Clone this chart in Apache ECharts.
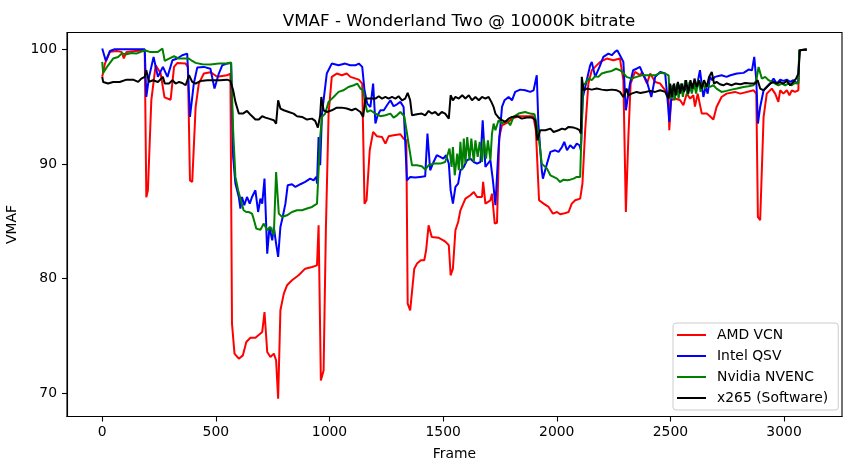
<!DOCTYPE html>
<html><head><meta charset="utf-8">
<script src="https://cdn.jsdelivr.net/npm/echarts@6/dist/echarts.min.js"></script>
<style>html,body{margin:0;padding:0;background:#fff}#c{width:850px;height:470px}</style>
</head><body><div id="c"></div>
<script>
const titleText = 'VMAF - Wonderland Two @ 10000K bitrate';
const xName = 'Frame';
const yName = 'VMAF';
const seriesNames = ['AMD VCN', 'Intel QSV', 'Nvidia NVENC', 'x265 (Software)'];
const seriesColors = ['#ff0000', '#0000ff', '#008000', '#000000'];
const xTicks = [0, 500, 1000, 1500, 2000, 2500, 3000];
const yTicks = [70, 80, 90, 100];

// [frame, VMAF]
const amdVcn = [[0,97.6],[12,98.75],[34,99.77],[63,99.85],[85,99.77],[95,99.2],[107,99.77],[147,99.85],[187,99.9],[194,87.1],[201,87.7],[216,95.55],[235,98.6],[257,97.9],[274,95.8],
[279,95.8],[301,95.6],[316,98.46],[330,98.8],[367,98.75],[377,98.46],[386,88.57],[396,88.43],[411,94.97],[425,97.0],[447,97.88],[476,98.0],[506,97.6],[549,97.73],[564,97.88],[571,76.07],[582,73.46],[601,73.02],[619,73.31],[634,74.48],[652,74.85],[674,74.85],
[704,75.35],[714,77.09],[726,73.6],[740,73.17],[755,73.46],[765,72.88],[774,69.53],[784,77.24],[799,78.69],[813,79.42],[835,79.86],[864,80.29],[893,80.87],[923,81.02],[945,81.16],[952,84.65],[962,71.13],[974,72.0],[984,84.22],[996,94.39],[1010,97.59],[1032,97.88],[1054,97.73],[1076,97.88],
[1092,97.59],[1129,97.35],[1144,97.0],[1154,86.54],[1163,86.83],[1177,91.19],[1192,92.79],[1209,92.41],[1231,92.35],[1246,91.77],[1260,92.41],[1282,92.5],[1312,92.59],[1326,92.21],[1338,92.06],[1344,77.82],[1355,77.24],[1363,77.38],[1373,80.87],[1385,81.31],[1402,81.6],[1417,81.6],[1425,82.47],[1436,84.65],[1450,83.63],[1479,83.57],[1501,83.34],
[1511,83.2],[1525,82.91],[1533,80.29],[1543,80.87],[1554,84.22],[1566,84.94],[1576,85.96],[1598,86.98],[1620,87.27],[1635,87.56],[1649,87.12],[1671,87.12],[1676,88.43],[1686,86.54],[1708,86.83],[1715,87.41],[1727,84.8],[1737,84.86],[1747,92.35],[1759,93.37],[1781,93.58],[1803,93.95],[1832,94.16],[1897,94.16],[1908,92.94],[1922,86.83],
[1942,86.54],[1964,86.25],[1983,85.67],[2001,85.81],[2015,85.61],[2030,85.67],[2037,85.52],[2052,85.81],[2066,86.54],[2081,86.83],[2103,86.98],[2113,88.29],[2125,92.94],[2139,97.01],[2154,98.17],[2169,98.46],[2191,98.9],[2220,99.19],[2249,99.04],[2278,99.19],[2293,97.3],[2304,85.81],[2315,92.35],[2325,97.01],[2344,98.02],
[2368,97.73],[2375,98.02],[2397,97.01],[2411,97.88],[2433,97.15],[2455,97.01],[2477,96.42],[2492,96.13],[2495,92.94],[2503,95.55],[2521,95.7],[2543,95.55],[2557,95.12],[2572,96.13],[2587,95.7],[2601,95.99],[2608,95.0],[2620,96.13],[2638,94.39],[2660,94.39],[2674,94.16],[2689,93.87],[2703,94.97],[2725,95.84],[2747,96.13],[2784,96.28],
[2808,96.13],[2866,96.42],[2878,96.13],[2885,85.38],[2895,85.09],[2910,94.1],[2924,96.13],[2946,96.57],[2961,96.13],[2975,95.41],[2983,96.42],[2997,96.13],[3012,96.42],[3024,95.99],[3034,96.42],[3048,96.28],[3063,96.42],[3067,99.91],[3100,99.97]];

const intelQsv = [[0,100.06],[16,98.98],[34,99.85],[55,100.0],[187,100.0],[194,95.84],[206,97.59],[226,99.33],[245,97.59],[267,98.46],
[287,97.59],[309,99.04],[330,99.19],[352,99.48],[374,99.62],[386,94.1],[403,97.01],[418,98.4],[447,98.46],[476,98.3],[494,96.57],[513,97.88],[528,98.6],[549,98.75],[567,98.81],[576,90.61],[586,88.29],[601,87.12],[608,86.11],[615,87.12],[625,86.4],[637,87.12],[649,86.54],[659,87.12],
[674,87.7],[686,85.81],[696,86.98],[704,86.54],[714,88.72],[726,82.18],[736,84.51],[748,83.34],[755,84.51],[765,83.05],[774,81.89],[784,84.51],[794,85.38],[806,86.54],[816,88.14],[835,88.23],[850,87.99],[872,88.23],[893,88.43],[915,88.72],[930,88.57],[942,88.87],[945,88.29],[952,92.35],[959,89.88],[967,94.39],[988,97.88],[1010,98.75],[1040,98.6],[1069,98.75],[1091,98.6],
[1114,98.6],[1129,98.75],[1144,98.46],[1154,96.42],[1166,95.26],[1180,94.97],[1192,97.01],[1202,93.52],[1212,94.24],[1224,94.68],[1239,94.68],[1253,95.12],[1268,95.55],[1282,95.03],[1297,95.2],[1312,95.41],[1326,94.97],[1341,88.57],[1355,88.87],[1377,88.81],[1399,88.87],[1421,88.92],[1431,92.65],[1443,89.45],[1458,90.17],[1472,90.76],[1487,90.61],[1501,90.46],[1513,90.76],
[1525,90.03],[1533,87.7],[1543,86.54],[1554,87.99],[1566,88.29],[1576,89.45],[1591,89.74],[1605,90.32],[1620,90.46],[1635,90.17],[1649,90.03],[1664,90.17],[1674,93.81],[1686,89.74],[1708,90.32],[1719,88.57],[1730,86.4],[1737,86.54],[1744,91.48],[1759,94.97],[1770,95.55],[1788,95.84],[1803,95.55],[1817,96.28],[1839,96.48],[1861,96.42],[1883,96.28],[1898,96.42],[1912,97.73],[1919,93.52],[1934,89.45],
[1939,88.72],[1957,90.03],[1972,91.05],[1993,91.19],[2008,91.05],[2023,91.48],[2033,91.92],[2045,91.19],[2059,91.63],[2074,91.34],[2088,91.77],[2100,91.63],[2106,91.19],[2115,95.84],[2132,97.3],[2147,98.6],[2154,98.9],[2169,97.59],[2188,98.46],[2205,99.33],[2227,99.62],[2242,99.48],[2256,99.77],[2266,99.91],[2278,99.48],[2293,98.9],[2304,94.68],[2322,97.01],[2336,98.17],[2351,98.3],[2366,98.46],
[2375,98.02],[2397,97.15],[2416,95.84],[2433,97.59],[2455,98.02],[2477,97.88],[2489,95.26],[2495,93.66],[2503,95.55],[2518,96.71],[2528,96.42],[2543,96.86],[2557,96.28],[2572,96.71],[2587,96.42],[2601,97.01],[2616,96.71],[2630,98.17],[2645,95.84],[2655,96.71],[2664,96.13],[2674,97.59],[2684,97.3],[2696,97.59],[2725,97.73],[2747,97.59],
[2764,97.73],[2793,97.88],[2822,97.94],[2844,98.23],[2859,98.17],[2869,99.33],[2878,97.3],[2885,93.52],[2895,94.97],[2910,96.42],[2924,96.71],[2939,97.01],[2954,97.44],[2968,97.01],[2983,97.35],[2997,97.24],[3012,97.35],[3027,97.15],[3041,97.3],[3056,97.01],[3063,97.3],[3067,99.91],[3100,99.97]];

const nvidiaNvenc = [[0,98.9],[4,97.94],[26,98.6],[48,99.19],[70,99.33],[85,99.62],[107,99.56],[129,99.68],[150,99.62],[187,99.91],[209,99.77],[245,99.77],[265,100.06],[275,98.98],
[294,99.19],[316,99.39],[338,99.19],[360,99.19],[381,99.19],[396,98.98],[411,98.81],[440,98.69],[476,98.66],[513,98.75],[549,98.75],[567,98.84],[576,92.94],[586,88.87],[598,87.7],[608,86.98],[622,85.96],[634,85.81],[644,85.81],[659,85.67],[666,85.23],[678,84.36],
[696,84.27],[711,84.8],[726,84.22],[740,84.51],[755,83.78],[765,89.3],[777,85.67],[791,85.38],[813,85.52],[835,85.81],[857,85.96],[879,85.96],[901,86.11],[923,86.25],[945,86.54],[952,89.45],[959,92.35],[967,94.1],[981,94.39],[996,95.41],[1018,95.84],[1040,96.28],[1061,96.42],[1083,96.71],
[1107,96.86],[1122,97.01],[1136,96.57],[1148,96.42],[1158,95.26],[1166,94.53],[1180,94.68],[1202,94.39],[1224,94.16],[1246,94.24],[1268,94.39],[1282,94.04],[1297,94.24],[1312,94.53],[1329,94.16],[1348,91.77],[1363,89.88],[1385,89.88],[1406,89.8],[1421,89.51],[1436,89.88],[1458,90.03],[1487,90.03],[1509,90.17],
[1528,91.34],[1537,89.74],[1543,91.48],[1551,89.01],[1562,90.9],[1569,89.45],[1576,91.92],[1584,89.45],[1591,92.21],[1598,90.03],[1606,92.35],[1616,90.32],[1624,92.21],[1635,90.17],[1642,92.06],[1652,90.61],[1661,91.92],[1671,90.17],[1679,92.21],[1689,90.46],[1697,92.06],[1708,90.32],[1715,92.65],[1722,93.52],[1730,92.94],[1744,93.81],[1759,93.52],[1781,93.81],[1795,93.37],[1810,94.1],[1832,94.39],[1861,94.53],[1883,94.39],[1902,94.33],[1912,93.37],[1919,92.65],[1934,90.03],
[1942,90.03],[1957,89.59],[1972,89.01],[1986,88.87],[2001,88.72],[2015,88.43],[2030,88.63],[2045,88.57],[2059,88.63],[2074,88.72],[2088,88.87],[2103,88.87],[2109,92.94],[2115,96.86],[2125,97.01],[2139,97.44],[2154,97.3],[2169,97.65],[2183,97.59],[2198,97.88],[2220,98.02],[2242,98.11],[2261,98.3],[2278,98.17],[2293,97.94],[2307,97.59],[2329,97.44],[2351,97.59],
[2375,97.73],[2404,97.73],[2433,97.73],[2455,97.94],[2477,97.88],[2492,97.73],[2496,96.13],[2503,95.7],[2509,96.86],[2518,95.55],[2528,97.01],[2536,95.7],[2546,97.01],[2555,95.84],[2565,97.3],[2575,95.99],[2584,97.15],[2594,96.13],[2604,97.01],[2613,96.13],[2623,97.3],[2633,96.28],[2642,97.15],[2652,96.57],[2664,97.01],[2674,96.71],[2689,96.86],[2703,96.57],[2725,96.28],[2747,96.37],[2769,96.48],
[2793,96.57],[2822,96.71],[2844,96.77],[2866,96.86],[2878,97.3],[2888,98.46],[2902,97.44],[2917,97.59],[2932,97.3],[2946,97.15],[2961,97.01],[2975,96.86],[2990,97.01],[3005,96.86],[3019,97.01],[3034,96.86],[3048,97.06],[3063,97.01],[3067,99.91],[3100,99.97]];

const x265Software = [[0,97.59],[4,97.15],[26,97.01],[48,97.15],[77,97.15],[107,97.35],[136,97.35],[158,97.15],[172,97.44],[187,97.59],[194,98.17],[206,97.15],[223,97.3],[245,97.15],[267,97.59],
[275,97.01],[294,97.01],[309,97.3],[323,97.01],[338,97.15],[352,97.06],[367,96.86],[382,97.73],[396,97.15],[411,97.01],[433,97.24],[462,97.3],[491,97.3],[520,97.3],[549,97.35],[564,97.24],[576,96.42],[586,95.41],[601,94.39],[619,94.39],[637,94.62],[655,94.24],[674,93.87],
[689,93.87],[704,94.16],[718,94.04],[733,93.95],[755,93.81],[765,93.52],[774,95.55],[784,94.83],[799,94.68],[821,94.53],[842,94.39],[857,94.16],[879,94.1],[901,93.87],[923,93.95],[937,93.75],[949,93.17],[959,94.24],[964,95.84],[974,94.68],[988,94.53],[1010,94.68],[1032,94.91],[1054,94.91],[1076,94.83],[1098,94.68],
[1114,94.83],[1136,94.53],[1148,94.1],[1158,95.7],[1173,95.7],[1187,95.7],[1202,95.7],[1217,95.9],[1231,95.7],[1246,95.84],[1260,95.7],[1275,95.84],[1290,95.7],[1304,95.9],[1319,95.55],[1333,95.7],[1344,96.19],[1355,95.55],[1363,94.24],[1385,94.33],[1406,94.39],[1421,94.24],[1436,94.62],[1450,94.39],[1465,94.53],[1479,94.24],[1494,94.53],[1509,94.39],
[1525,93.95],[1533,95.99],[1543,95.55],[1554,95.84],[1569,95.7],[1584,95.99],[1598,95.7],[1613,95.99],[1627,95.55],[1642,95.84],[1657,95.55],[1671,95.84],[1686,95.7],[1700,95.84],[1712,95.41],[1722,94.97],[1730,94.39],[1744,94.04],[1759,93.81],[1773,93.66],[1788,93.95],[1803,94.1],[1825,94.16],[1846,93.95],[1868,94.04],[1890,94.04],[1905,93.87],[1915,92.06],[1927,92.94],
[1950,92.94],[1972,93.08],[1986,92.79],[2008,92.94],[2023,93.08],[2037,93.0],[2052,93.23],[2074,93.17],[2088,93.08],[2100,92.94],[2106,92.65],[2110,97.59],[2118,96.42],[2132,96.57],[2154,96.48],[2176,96.57],[2198,96.48],[2220,96.42],[2242,96.48],[2264,96.42],[2278,96.28],[2293,95.84],[2300,96.13],[2307,96.57],[2315,95.99],[2329,96.13],[2351,96.28],
[2368,96.19],[2390,96.28],[2411,96.37],[2433,96.28],[2455,96.42],[2477,96.28],[2484,95.99],[2492,95.7],[2499,97.01],[2506,95.84],[2515,97.01],[2524,95.99],[2533,97.15],[2543,96.13],[2550,97.01],[2560,96.28],[2569,97.3],[2579,96.13],[2588,97.3],[2597,96.57],[2606,97.44],[2616,96.71],[2626,97.3],[2638,96.57],[2648,97.3],[2660,96.71],[2670,97.59],[2682,98.02],[2692,97.01],[2703,97.15],[2718,96.95],[2733,96.86],[2747,97.01],[2769,96.86],
[2786,97.01],[2808,96.95],[2829,97.06],[2851,97.01],[2873,97.01],[2884,97.3],[2895,96.57],[2910,96.42],[2924,96.71],[2939,97.01],[2954,97.15],[2968,97.01],[2983,97.15],[2997,97.01],[3012,97.24],[3027,96.86],[3041,97.15],[3053,97.44],[3060,97.59],[3063,97.88],[3070,99.91],[3100,99.97]];

const seriesData = [amdVcn, intelQsv, nvidiaNvenc, x265Software];
const FONT = 'DejaVu Sans';

const chart = echarts.init(document.getElementById('c'), null, {renderer: 'canvas'});
chart.setOption({
  animation: false,
  backgroundColor: '#ffffff',
  textStyle: {fontFamily: FONT},
  title: {
    text: titleText,
    left: 454, top: 8, textAlign: 'center',
    textStyle: {fontFamily: FONT, fontSize: 16.7, fontWeight: 'normal', color: '#000'}
  },
  grid: {
    left: 67, right: 8, top: 32.5, bottom: 53.5,
    show: true, borderColor: '#000', borderWidth: 1.1,
    containLabel: false, outerBoundsMode: 'none'
  },
  legend: {
    orient: 'vertical',
    left: 673, top: 323,
    padding: [5, 10, 5, 4],
    itemGap: 7,
    itemWidth: 29, itemHeight: 2,
    icon: 'rect',
    borderColor: '#cccccc', borderWidth: 1, borderRadius: 3,
    backgroundColor: 'rgba(255,255,255,0.8)',
    textStyle: {fontFamily: FONT, fontSize: 13.9, color: '#000', lineHeight: 14, padding: [0, 0, 0, 6]},
    data: seriesNames
  },
  xAxis: {
    type: 'value', min: -155, max: 3255,
    name: xName, nameLocation: 'middle', nameGap: 31,
    nameTextStyle: {fontFamily: FONT, fontSize: 13.9, color: '#000'},
    axisLine: {show: true, onZero: false, lineStyle: {color: '#000', width: 1.1}},
    axisTick: {show: true, length: 5, lineStyle: {color: '#000', width: 1.1}, customValues: xTicks},
    axisLabel: {fontFamily: FONT, fontSize: 13.9, color: '#000', margin: 9, customValues: xTicks,
      formatter: v => String(v)},
    splitLine: {show: false}
  },
  yAxis: {
    type: 'value', min: 67.98, max: 101.46,
    name: yName, nameLocation: 'middle', nameGap: 43,
    nameTextStyle: {fontFamily: FONT, fontSize: 13.9, color: '#000'},
    axisLine: {show: true, onZero: false, lineStyle: {color: '#000', width: 1.1}},
    axisTick: {show: true, length: 5, lineStyle: {color: '#000', width: 1.1}, customValues: yTicks},
    axisLabel: {fontFamily: FONT, fontSize: 13.9, color: '#000', margin: 10, customValues: yTicks,
      formatter: v => String(v)},
    splitLine: {show: false}
  },
  series: seriesNames.map((n, i) => ({
    name: n, type: 'line', data: seriesData[i],
    showSymbol: false, symbol: 'none',
    color: seriesColors[i],
    lineStyle: {color: seriesColors[i], width: 2},
    itemStyle: {color: seriesColors[i]}
  }))
});
</script>
</body></html>
